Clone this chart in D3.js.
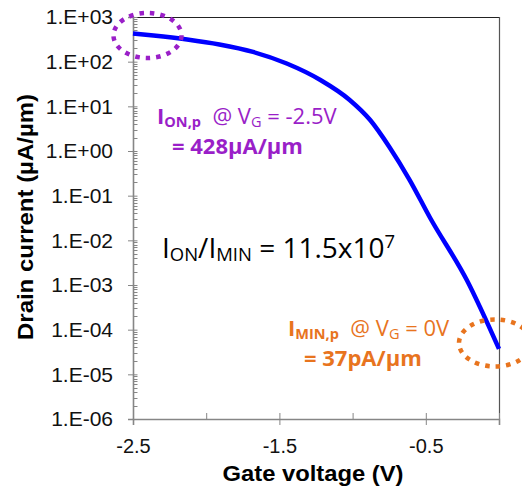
<!DOCTYPE html>
<html><head><meta charset="utf-8">
<script src="https://cdn.jsdelivr.net/npm/d3@7"></script>
<style>body{margin:0;background:#fff;} svg{display:block}</style>
</head><body><svg id="c" width="522" height="492"></svg>
<script>
// ---- data ----
const gateVoltage = [-2.5, -2.36, -2.13, -1.91, -1.68, -1.45, -1.22, -1.02, -0.88, -0.75, -0.61, -0.47, -0.22, 0];
const drainCurrent = [428, 385, 313, 242, 165, 91, 38.9, 13.9, 4.94, 1.25, 0.224, 0.0316, 1.29e-3, 3.7e-5];
const xTickValues = [-2.5, -2, -1.5, -1, -0.5, 0];
const xTickLabels = ["-2.5", "", "-1.5", "", "-0.5", ""];
const yTickValues = [1e-6, 1e-5, 1e-4, 1e-3, 1e-2, 1e-1, 1e0, 1e1, 1e2, 1e3];
const yTickLabels = ["1.E-06", "1.E-05", "1.E-04", "1.E-03", "1.E-02", "1.E-01", "1.E+00", "1.E+01", "1.E+02", "1.E+03"];
const xTitle = "Gate voltage (V)";
const yTitle = "Drain current (µA/µm)";

// ---- layout ----
const L = 133, R = 499, T = 17, B = 419;
const svg = d3.select("#c");
const x = d3.scaleLinear().domain([-2.5, 0]).range([L, R]);
const y = d3.scaleLog().domain([1e-6, 1e3]).range([B, T]);
const axisCol = "#868686";

// frame top/right
svg.append("line").attr("x1", L).attr("x2", R).attr("y1", T + 0.5).attr("y2", T + 0.5).attr("stroke", "#222").attr("stroke-width", 1.2);
svg.append("line").attr("x1", R + 0.5).attr("x2", R + 0.5).attr("y1", T).attr("y2", B).attr("stroke", "#555").attr("stroke-width", 1.2);

// minor y ticks (inside)
const minor = y.ticks().filter(v => !yTickValues.some(m => Math.abs(Math.log10(v) - Math.log10(m)) < 1e-6));
svg.append("g").selectAll("line").data(minor).join("line")
  .attr("x1", L).attr("x2", L + 4.5)
  .attr("y1", d => Math.round(y(d)) + 0.5).attr("y2", d => Math.round(y(d)) + 0.5)
  .attr("stroke", axisCol).attr("stroke-width", 1);

// y axis
const gy = svg.append("g").attr("transform", `translate(${L},0)`)
  .call(d3.axisLeft(y).tickValues(yTickValues).tickFormat((d, i) => yTickLabels[i]).tickSize(5).tickPadding(15));
gy.select(".domain").attr("stroke", axisCol).attr("stroke-width", 1.6);
gy.selectAll(".tick line").attr("stroke", axisCol).attr("x1", 4.5);
gy.selectAll(".tick text").attr("font-family", "Liberation Sans, Arial, sans-serif").attr("font-size", 21).attr("fill", "#111");

// x axis
const gx = svg.append("g").attr("transform", `translate(0,${B})`)
  .call(d3.axisBottom(x).tickValues(xTickValues).tickFormat((d, i) => xTickLabels[i]).tickSize(6).tickPadding(14));
gx.select(".domain").attr("stroke", axisCol).attr("stroke-width", 1.6);
gx.selectAll(".tick line").attr("stroke", axisCol).attr("y1", -6)
  .attr("y2", (d, i) => xTickLabels[i] ? 6 : 0);
gx.selectAll(".tick text").attr("font-family", "Liberation Sans, Arial, sans-serif").attr("font-size", 20).attr("fill", "#111");

// titles
svg.append("text").attr("x", 313).attr("y", 481).attr("text-anchor", "middle")
  .attr("font-family", "Liberation Sans, Arial, sans-serif").attr("font-weight", "bold").attr("font-size", 22)
  .attr("textLength", 181).attr("lengthAdjust", "spacingAndGlyphs").attr("fill", "#000").text(xTitle);
svg.append("text").attr("transform", "translate(33,217) rotate(-90)").attr("text-anchor", "middle")
  .attr("font-family", "Liberation Sans, Arial, sans-serif").attr("font-weight", "bold").attr("font-size", 22)
  .attr("textLength", 246).attr("lengthAdjust", "spacingAndGlyphs").attr("fill", "#000").text(yTitle);

// curve
const pts = gateVoltage.map((v, i) => [v, drainCurrent[i]]);
svg.append("path").datum(pts)
  .attr("d", d3.line().x(d => x(d[0])).y(d => y(d[1])).curve(d3.curveMonotoneX))
  .attr("fill", "none").attr("stroke", "#0000FF").attr("stroke-width", 4.5).attr("stroke-linecap", "butt");

// dotted ellipses
const purple = "#9A1FC8", orange = "#E8741E";
svg.append("ellipse").attr("cx", x(-2.5) + 14.5).attr("cy", y(428) + 2).attr("rx", 34).attr("ry", 22.5)
  .attr("fill", "none").attr("stroke", purple).attr("stroke-width", 4.5).attr("stroke-dasharray", "4.5 6");
svg.append("ellipse").attr("cx", x(0) - 4).attr("cy", y(3.7e-5) - 6).attr("rx", 36).attr("ry", 23.5)
  .attr("fill", "none").attr("stroke", orange).attr("stroke-width", 4.5).attr("stroke-dasharray", "4.5 6");

// rich text helper
function rich(x0, y0, parts, color, size, family) {
  const t = svg.append("text").attr("x", x0).attr("y", y0).attr("fill", color)
    .attr("font-family", family).attr("font-size", size).attr("xml:space", "preserve");
  let shift = 0;
  parts.forEach(p => {
    const s = t.append("tspan").text(p.t);
    let target = p.sub ? 3 : p.sup ? -10 : 0;
    if (target !== shift) { s.attr("dy", target - shift); shift = target; }
    if (p.sub || p.sup) s.attr("font-size", size * 0.66);
    if (p.bold) s.attr("font-weight", "bold");
  });
  return t;
}
const annFont = "'Open Sans', 'Noto Sans', sans-serif";
rich(157, 124, [{t: "I", bold: true}, {t: "ON,p", sub: true, bold: true}, {t: "  @ V"}, {t: "G", sub: true}, {t: " = -2.5V"}], purple, 22, annFont);
rich(172, 154, [{t: "= 428µA/µm", bold: true}], purple, 22, annFont);
rich(288, 336, [{t: "I", bold: true}, {t: "MIN,p", sub: true, bold: true}, {t: "  @ V"}, {t: "G", sub: true}, {t: " = 0V"}], orange, 22, annFont);
rich(304, 366, [{t: "= 37pA/µm", bold: true}], orange, 22, annFont);
rich(162, 258, [{t: "I"}, {t: "ON", sub: true}, {t: "/I"}, {t: "MIN", sub: true}, {t: " = 11.5x10"}, {t: "7", sup: true}], "#000", 28, annFont);
</script></body></html>
